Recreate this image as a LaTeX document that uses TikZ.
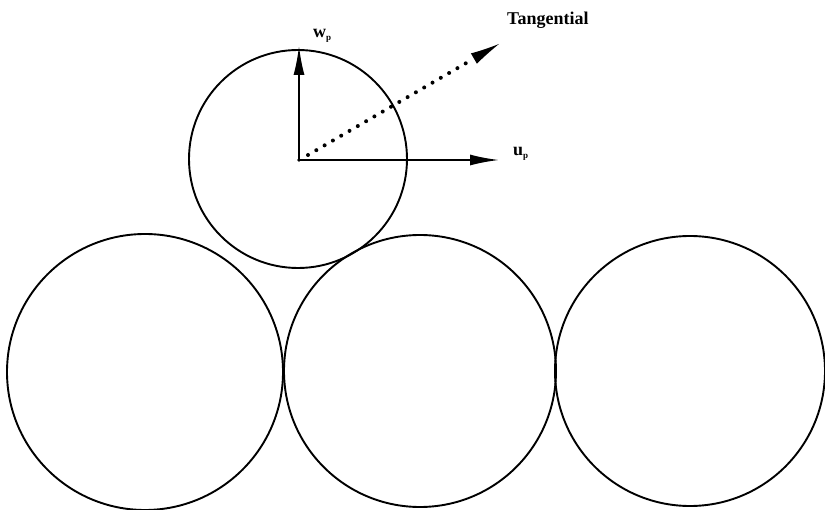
\documentclass[tikz,border=0pt]{standalone}
\usepackage{fontspec}
\setmainfont{Liberation Serif}
\usetikzlibrary{arrows.meta}
\tikzset{
  ball/.style={circle, draw, line width=1.9pt, inner sep=0pt},
  vecarrow/.style={line width=1.9pt, -{Latex[length=29pt, width=11pt]}},
  tanarrow/.style={line width=4pt, line cap=round, dash pattern=on 0pt off 9.6pt, -{Latex[length=29pt, width=12pt, line width=0pt]}},
  vlabel/.style={anchor=base west, inner sep=0pt, font=\fontsize{18}{20}\selectfont\bfseries}
}

\begin{document}
\begin{tikzpicture}[x=1pt, y=-1pt]
  \useasboundingbox (0,0) rectangle (825,510);
  \node[ball, minimum size=218pt] (top) at (298,159) {};
  \node[ball, minimum size=276pt] (left) at (145,372) {};
  \node[ball, minimum size=272pt] (mid) at (420,371) {};
  \node[ball, minimum size=270pt] (right) at (690,371) {};
  \coordinate (o) at (299,160);
  \coordinate (wtip) at (299,46);
  \coordinate (utip) at (499,160);
  \coordinate (tstart) at (308,155);
  \coordinate (ttip) at (499,44);
  \draw[vecarrow] (o) -- (wtip);
  \draw[vecarrow] (o) -- (utip);
  \draw[tanarrow] (tstart) -- (ttip);
  \fill (o) circle (1.8pt);
  \node[vlabel] (wlab) at (313,38) {w\raisebox{-3pt}{\fontsize{9}{9}\selectfont p}};
  \node[vlabel] (ulab) at (513,156) {u\raisebox{-3pt}{\fontsize{9}{9}\selectfont p}};
  \node[vlabel] (tlab) at (507,25) {Tangential};
\end{tikzpicture}
\end{document}
